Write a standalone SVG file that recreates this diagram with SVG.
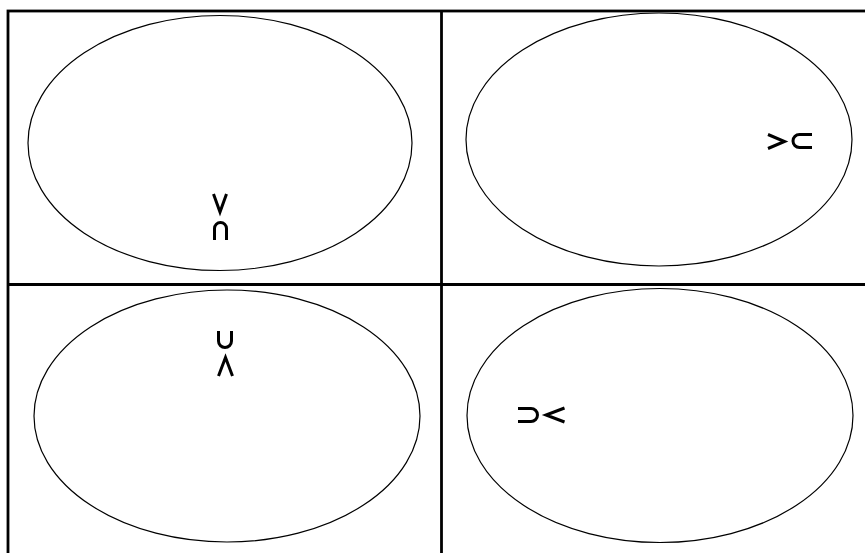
<svg xmlns="http://www.w3.org/2000/svg" width="865" height="553" viewBox="0 0 865 553">
<style>
.frame{fill:none;stroke:#000;stroke-width:2.8}
.ell{fill:none;stroke:#000;stroke-width:1.2}
.sym{fill:none;stroke:#000;stroke-width:3;stroke-linejoin:miter;stroke-linecap:butt}
</style>
<rect width="865" height="553" fill="#fff"/>
<g id="frame">
<rect class="frame" x="8" y="11" width="880" height="580"/>
<line class="frame" x1="441.5" y1="11" x2="441.5" y2="560"/>
<line class="frame" x1="8" y1="284.5" x2="870" y2="284.5"/>
</g>
<g id="panel-top-left">
<ellipse class="ell" cx="220" cy="143" rx="192" ry="127.5"/>
<path class="sym" d="M213.5,194 L220,212 L226.5,194"/>
<path class="sym" d="M214.5,240 V228.5 A6,6 0 0 1 226.5,228.5 V240"/>
</g>
<g id="panel-top-right">
<ellipse class="ell" cx="659" cy="139.5" rx="193" ry="126.5"/>
<path class="sym" d="M768,134.5 L784.5,141.5 L768,148.5"/>
<path class="sym" d="M812,134.5 H799.5 A6.5,6.5 0 0 0 799.5,147.5 H812"/>
</g>
<g id="panel-bottom-left">
<ellipse class="ell" cx="227" cy="416" rx="193" ry="126"/>
<path class="sym" d="M218.5,331 V341 A6.5,6.5 0 0 0 231.5,341 V331"/>
<path class="sym" d="M218.5,376 L225.5,357.5 L232.5,376"/>
</g>
<g id="panel-bottom-right">
<ellipse class="ell" cx="660" cy="415.5" rx="193" ry="127"/>
<path class="sym" d="M518,408.5 H531 A6.5,6.5 0 0 1 531,421.5 H518"/>
<path class="sym" d="M564.5,408 L546,415 L564.5,422"/>
</g>
</svg>
